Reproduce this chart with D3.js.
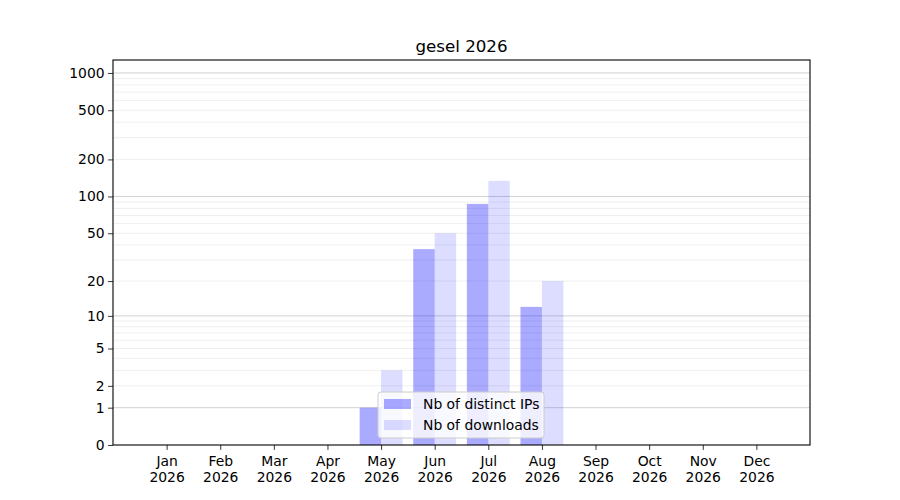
<!DOCTYPE html>
<html>
<head>
<meta charset="utf-8">
<script src="https://cdn.jsdelivr.net/npm/d3@7"></script>
<style>
body { margin: 0; background: #fff; }
svg { display: block; font-family: "DejaVu Sans", sans-serif; }
</style>
</head>
<body>
<svg id="chart" width="900" height="500"></svg>
<script>
const title = "gesel 2026";
const months = ["Jan","Feb","Mar","Apr","May","Jun","Jul","Aug","Sep","Oct","Nov","Dec"];
const year = 2026;
const distinctIPs = [0, 0, 0, 0, 1, 37, 87, 12, 0, 0, 0, 0];
const downloads = [0, 0, 0, 0, 3, 50, 134, 20, 0, 0, 0, 0];
const yTickValues = [0, 1, 2, 5, 10, 20, 50, 100, 200, 500, 1000];
const seriesNames = ["Nb of distinct IPs", "Nb of downloads"];
const seriesColors = ["rgba(0,0,255,0.333)", "rgba(0,0,255,0.133)"];

const svg = d3.select("#chart");
const L = 113, R = 810, T = 60, B = 445;

const idx = months.map((m, i) => i);
const x = d3.scaleLinear().domain([-1, 12]).range([L, R]);
const yMax = Math.pow(10, 3.105) - 1;
const y = d3.scaleSymlog().constant(1).domain([0, yMax]).range([B, T]);

// grid
const minor = [];
[1, 10, 100].forEach(d => { for (let k = 2; k <= 9; k++) minor.push(d * k); });
const major = [1, 10, 100, 1000];
const g = svg.append("g");
g.selectAll(".minor").data(minor.filter(v => v <= yMax)).enter().append("line")
  .attr("x1", L).attr("x2", R).attr("y1", d => y(d)).attr("y2", d => y(d))
  .attr("stroke", "#ebebeb").attr("stroke-width", 0.8);
g.selectAll(".major").data(major).enter().append("line")
  .attr("x1", L).attr("x2", R).attr("y1", d => y(d)).attr("y2", d => y(d))
  .attr("stroke", "#c8c8c8").attr("stroke-width", 0.8);

// bars
const barW = 0.4;
const bars = svg.append("g");
bars.selectAll(".ip").data(distinctIPs.map((v, i) => ({v, i}))).enter().append("rect")
  .attr("x", d => x(d.i - barW))
  .attr("width", d => x(d.i) - x(d.i - barW))
  .attr("y", d => y(d.v)).attr("height", d => B - y(d.v))
  .attr("fill", seriesColors[0]);
bars.selectAll(".dl").data(downloads.map((v, i) => ({v, i}))).enter().append("rect")
  .attr("x", d => x(d.i))
  .attr("width", d => x(d.i + barW) - x(d.i))
  .attr("y", d => y(d.v)).attr("height", d => B - y(d.v))
  .attr("fill", seriesColors[1]);

// axes
const yAxis = d3.axisLeft(y).tickValues(yTickValues).tickFormat(d3.format("d")).tickSize(4.9).tickPadding(3.5);
const ya = svg.append("g").attr("transform", `translate(${L},0)`).call(yAxis);
ya.select(".domain").remove();
ya.selectAll("text").attr("font-size", "13.9px").attr("fill", "#000").attr("font-family", "DejaVu Sans");
ya.selectAll("line").attr("stroke", "#000").attr("stroke-width", 0.8);

const xAxis = d3.axisBottom(x).tickValues(idx).tickFormat(() => "").tickSize(4.9);
const xa = svg.append("g").attr("transform", `translate(0,${B})`).call(xAxis);
xa.select(".domain").remove();
xa.selectAll("line").attr("stroke", "#000").attr("stroke-width", 0.8);
xa.selectAll(".tick").each(function(d, i) {
  const t = d3.select(this).select("text").attr("y", 0).attr("dy", 0)
    .attr("font-size", "13.9px").attr("fill", "#000").attr("font-family", "DejaVu Sans");
  t.append("tspan").attr("x", 0).attr("y", 21).text(months[i]);
  t.append("tspan").attr("x", 0).attr("y", 37).text(String(year));
});

// frame
svg.append("rect").attr("x", L).attr("y", T).attr("width", R - L).attr("height", B - T)
  .attr("fill", "none").attr("stroke", "#000").attr("stroke-width", 1.1);

// title
svg.append("text").attr("x", (L + R) / 2).attr("y", 52).attr("text-anchor", "middle")
  .attr("font-size", "16.7px").attr("fill", "#000").text(title);

// legend
const lg = svg.append("g").attr("transform", "translate(378,392)");
lg.append("rect").attr("width", 166).attr("height", 46).attr("rx", 3)
  .attr("fill", "rgba(255,255,255,0.8)").attr("stroke", "#cccccc").attr("stroke-width", 1);
seriesNames.forEach((name, i) => {
  lg.append("rect").attr("x", 6).attr("y", 7 + i * 21).attr("width", 27).attr("height", 10)
    .attr("fill", seriesColors[i]);
  lg.append("text").attr("x", 45).attr("y", 17 + i * 21).attr("font-size", "13.9px")
    .attr("fill", "#000").text(name);
});
</script>
</body>
</html>
